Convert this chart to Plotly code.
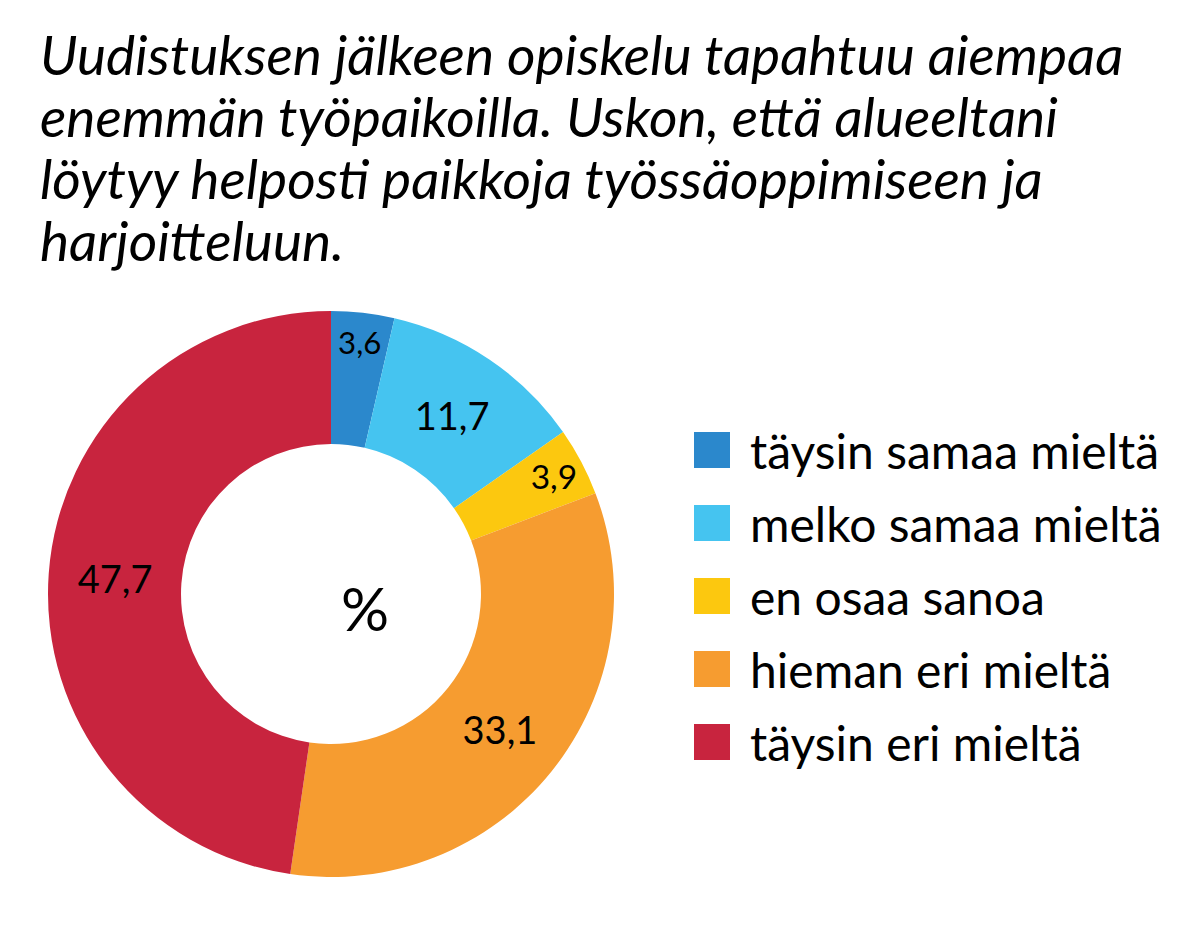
import plotly.graph_objects as go

categories = ["täysin samaa mieltä", "melko samaa mieltä", "en osaa sanoa", "hieman eri mieltä", "täysin eri mieltä"]
values = [3.6, 11.7, 3.9, 33.1, 47.7]
colors = ["#2b88cc", "#45c4f0", "#fcc80f", "#f69c30", "#c8243e"]
title_lines = ["Uudistuksen jälkeen opiskelu tapahtuu aiempaa",
               "enemmän työpaikoilla. Uskon, että alueeltani",
               "löytyy helposti paikkoja työssäoppimiseen ja",
               "harjoitteluun."]

W, H = 1199, 937
fig = go.Figure(go.Pie(
    values=values, labels=categories, sort=False, direction="clockwise", rotation=0,
    hole=0.53, marker=dict(colors=colors, line=dict(width=0)),
    text=[f"{v:.1f}".replace(".", ",") for v in values], textinfo="text",
    textposition="inside", insidetextorientation="horizontal",
    textfont=dict(family="Lato", size=38, color="black"),
    domain=dict(x=[40/W, 606/W], y=[1-869/H, 1-303/H]), showlegend=False,
    hoverinfo="skip"))

fig.add_annotation(text="%", x=331/W, y=1-600/H, xref="paper", yref="paper",
                   showarrow=False, font=dict(family="Lato", size=60, color="black"))

for i, (lab, col) in enumerate(zip(categories, colors)):
    yc = 442 + i*73
    fig.add_shape(type="rect", xref="paper", yref="paper",
                  x0=686/W, x1=722/W, y0=1-(yc+18)/H, y1=1-(yc-18)/H,
                  fillcolor=col, line=dict(width=0))
    fig.add_annotation(text=lab, x=740/W, y=1-yc/H, xref="paper", yref="paper",
                       xanchor="left", yanchor="middle", showarrow=False,
                       font=dict(family="Lato", size=48, color="black"))

for i, line in enumerate(title_lines):
    fig.add_annotation(text=f"<i>{line}</i>", x=30/W, y=1-(46+i*62)/H, xref="paper", yref="paper",
                       xanchor="left", yanchor="middle", showarrow=False,
                       font=dict(family="Lato", size=55, color="black"))

fig.update_layout(width=W, height=H, margin=dict(l=0, r=0, t=0, b=0),
                  paper_bgcolor="white", plot_bgcolor="white")
fig.write_html("out.html")
